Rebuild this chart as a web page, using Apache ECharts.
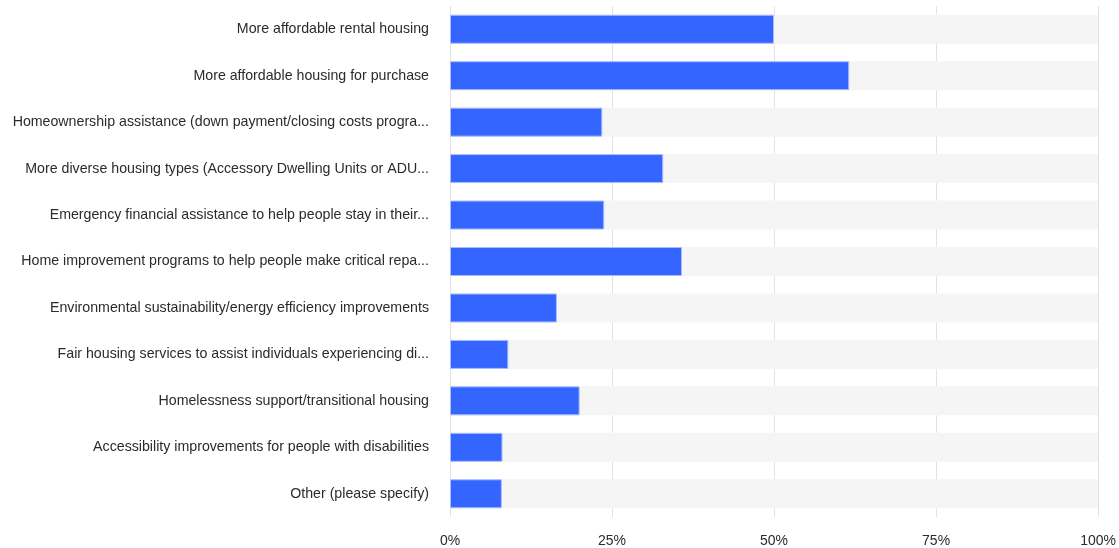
<!DOCTYPE html>
<html>
<head>
<meta charset="utf-8">
<script src="https://cdn.jsdelivr.net/npm/echarts@6/dist/echarts.min.js"></script>
<style>
html,body{margin:0;padding:0;background:#fff;}
#chart{width:1119px;height:548px;}
</style>
</head>
<body>
<div id="chart"></div>
<script>
var categories = [
  "More affordable rental housing",
  "More affordable housing for purchase",
  "Homeownership assistance (down payment/closing costs progra...",
  "More diverse housing types (Accessory Dwelling Units or ADU...",
  "Emergency financial assistance to help people stay in their...",
  "Home improvement programs to help people make critical repa...",
  "Environmental sustainability/energy efficiency improvements",
  "Fair housing services to assist individuals experiencing di...",
  "Homelessness support/transitional housing",
  "Accessibility improvements for people with disabilities",
  "Other (please specify)"
];
var values = [50.0, 61.6, 23.5, 32.9, 23.8, 35.8, 16.5, 9.0, 20.0, 8.1, 8.0];
var tickValues = [0, 25, 50, 75, 100];

var chart = echarts.init(document.getElementById('chart'), null, {renderer: 'canvas'});
chart.setOption({
  animation: false,
  grid: {left: 450, right: 19, top: 6, bottom: 31, containLabel: false},
  xAxis: {
    type: 'value', min: 0, max: 100, interval: 25,
    axisLine: {show: false},
    axisTick: {show: false},
    splitLine: {show: true, lineStyle: {color: '#e2e2e2', width: 1}},
    axisLabel: {
      formatter: function (v) { return tickValues.indexOf(v) >= 0 ? v + '%' : ''; },
      color: '#2b2b2b', fontSize: 14, fontFamily: 'Liberation Sans, Arial, sans-serif', margin: 17
    }
  },
  yAxis: {
    type: 'category', data: categories, inverse: true,
    axisLine: {show: false},
    axisTick: {show: false},
    axisLabel: {color: '#2b2b2b', fontSize: 14.2, fontFamily: 'Liberation Sans, Arial, sans-serif', margin: 21}
  },
  series: [{
    type: 'bar', data: values, barWidth: 29,
    showBackground: true,
    backgroundStyle: {color: '#f5f5f5'},
    itemStyle: {color: '#3565ff', borderColor: '#a9bcff', borderWidth: 1}
  }]
});
</script>
</body>
</html>
